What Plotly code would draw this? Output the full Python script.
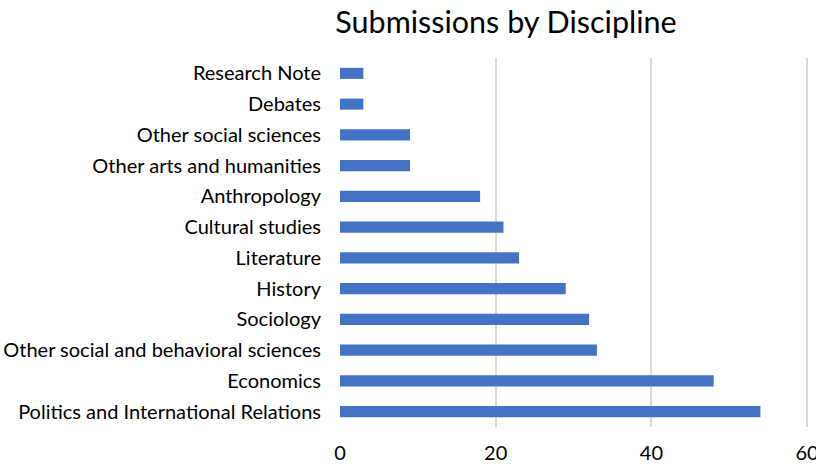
import plotly.graph_objects as go

categories = ["Politics and International Relations", "Economics",
              "Other social and behavioral sciences", "Sociology", "History",
              "Literature", "Cultural studies", "Anthropology",
              "Other arts and humanities", "Other social sciences", "Debates",
              "Research Note"]
values = [54, 48, 33, 32, 29, 23, 21, 18, 9, 9, 3, 3]
x_ticks = [0, 20, 40, 60]

font_family = "Lato, Open Sans, sans-serif"

fig = go.Figure(go.Bar(
    y=categories, x=values, orientation="h",
    marker=dict(color="#4472C4", line=dict(width=0)),
    width=0.36,
))

fig.update_layout(
    width=816, height=464,
    margin=dict(l=340, r=5, t=58, b=37, autoexpand=False),
    paper_bgcolor="white", plot_bgcolor="white",
    font=dict(family=font_family, size=20, color="#000000"),
    title=dict(text="Submissions by Discipline", x=506/816, xref="container",
               xanchor="center", y=1 - 22/464, yref="container", yanchor="middle",
               font=dict(size=30.5, color="#000000", family=font_family)),
    showlegend=False,
)
fig.update_xaxes(range=[0, 60.5], tickvals=x_ticks, showgrid=True,
                 gridcolor="#d9d9d9", gridwidth=2, zeroline=False,
                 showline=False, ticks="", ticklabelstandoff=12,
                 ticklabeloverflow="allow",
                 automargin=False, tickfont=dict(size=20))
fig.update_yaxes(categoryorder="array", categoryarray=categories,
                 showgrid=False, showline=False, ticks="",
                 automargin=False,
                 ticklabelstandoff=18, tickfont=dict(size=20))

fig.write_html("out.html")
